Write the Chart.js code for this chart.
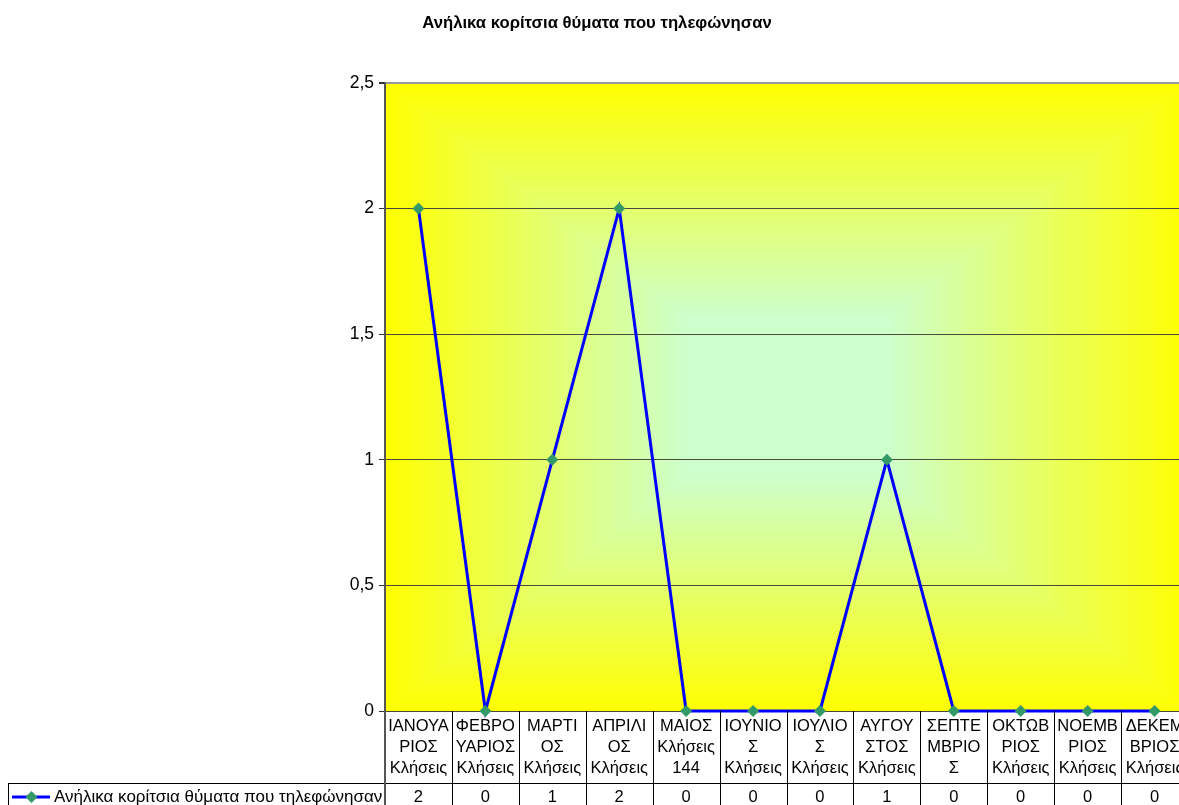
<!DOCTYPE html>
<html>
<head>
<meta charset="utf-8">
<script src="https://cdn.jsdelivr.net/npm/chart.js@4"></script>
<style>
  html, body { margin: 0; padding: 0; background: #fff; overflow: hidden; }
  #wrap { width: 1195px; height: 805px; position: relative; }
</style>
</head>
<body>
<div id="wrap"><canvas id="lineChart"></canvas></div>
<script>
// chart data
const chartTitle = "Ανήλικα κορίτσια θύματα που τηλεφώνησαν";
const seriesName = "Ανήλικα κορίτσια θύματα που τηλεφώνησαν";
const months = [
  ["ΙΑΝΟΥΑ", "ΡΙΟΣ", "Κλήσεις"],
  ["ΦΕΒΡΟ", "ΥΑΡΙΟΣ", "Κλήσεις"],
  ["ΜΑΡΤΙ", "ΟΣ", "Κλήσεις"],
  ["ΑΠΡΙΛΙ", "ΟΣ", "Κλήσεις"],
  ["ΜΑΙΟΣ", "Κλήσεις", "144"],
  ["ΙΟΥΝΙΟ", "Σ", "Κλήσεις"],
  ["ΙΟΥΛΙΟ", "Σ", "Κλήσεις"],
  ["ΑΥΓΟΥ", "ΣΤΟΣ", "Κλήσεις"],
  ["ΣΕΠΤΕ", "ΜΒΡΙΟ", "Σ"],
  ["ΟΚΤΩΒ", "ΡΙΟΣ", "Κλήσεις"],
  ["ΝΟΕΜΒ", "ΡΙΟΣ", "Κλήσεις"],
  ["ΔΕΚΕΜ", "ΒΡΙΟΣ", "Κλήσεις"]
];
const calls = [2, 0, 1, 2, 0, 0, 0, 1, 0, 0, 0, 0];
const yTicks = [0, 0.5, 1, 1.5, 2, 2.5];

const FONT = "'Liberation Sans', Arial, sans-serif";

// yellow -> light green "from centre" fill of the plot area (rectangular gradient,
// flat green in the middle)
const plotFill = {
  id: "plotFill",
  beforeDraw(chart) {
    const { ctx, chartArea: a } = chart;
    const l = Math.round(a.left), t = Math.round(a.top);
    const w = Math.round(a.right) - l, h = Math.round(a.bottom) - t;
    const img = ctx.createImageData(w, h);
    const edge = [255, 255, 0], mid = [204, 255, 204];
    const flat = 0.25;
    for (let y = 0; y < h; y++) {
      const dy = Math.abs(y + 0.5 - h / 2) / (h / 2);
      for (let x = 0; x < w; x++) {
        const dx = Math.abs(x + 0.5 - w / 2) / (w / 2);
        const k = Math.max(0, (Math.max(dx, dy) - flat) / (1 - flat));
        const i = (y * w + x) * 4;
        img.data[i] = mid[0] + (edge[0] - mid[0]) * k;
        img.data[i + 1] = mid[1] + (edge[1] - mid[1]) * k;
        img.data[i + 2] = mid[2] + (edge[2] - mid[2]) * k;
        img.data[i + 3] = 255;
      }
    }
    ctx.putImageData(img, l, t);
  }
};

// title + data table under the plot
const dataTable = {
  id: "dataTable",
  afterDraw(chart) {
    const { ctx, chartArea: a, scales } = chart;
    const x = scales.x;
    const w = (a.right - a.left) / months.length;
    const rowTop = a.bottom, rowMid = a.bottom + 72, rowBot = 805 + 5;
    ctx.save();

    ctx.fillStyle = "#000";
    ctx.font = "bold 16.7px " + FONT;
    ctx.textAlign = "center";
    ctx.textBaseline = "middle";
    ctx.fillText(chartTitle, 597, 23);

    ctx.strokeStyle = "#000";
    ctx.lineWidth = 1;
    ctx.beginPath();
    for (let i = 1; i <= months.length; i++) {
      const xx = Math.round(a.left + i * w) + 0.5;
      ctx.moveTo(xx, rowTop);
      ctx.lineTo(xx, rowBot);
    }
    ctx.moveTo(8, Math.round(rowMid) + 0.5);
    ctx.lineTo(a.right, Math.round(rowMid) + 0.5);
    ctx.moveTo(8.5, rowMid);
    ctx.lineTo(8.5, rowBot);
    ctx.stroke();

    ctx.strokeStyle = "#555";
    ctx.lineWidth = 2;
    ctx.beginPath();
    ctx.moveTo(a.left, rowTop);
    ctx.lineTo(a.left, rowBot);
    ctx.stroke();

    ctx.font = "16.5px " + FONT;
    months.forEach((lines, i) => {
      const px = x.getPixelForValue(i);
      lines.forEach((s, j) => ctx.fillText(s, px, rowTop + 15 + j * 21.3));
      ctx.fillText(String(calls[i]), px, rowMid + 14);
    });

    // legend key in the table
    const ly = rowMid + 14;
    ctx.strokeStyle = "#0000ff";
    ctx.lineWidth = 3;
    ctx.beginPath();
    ctx.moveTo(12, ly);
    ctx.lineTo(50, ly);
    ctx.stroke();
    ctx.fillStyle = "#339966";
    ctx.beginPath();
    ctx.moveTo(31.5, ly - 6);
    ctx.lineTo(37.5, ly);
    ctx.lineTo(31.5, ly + 6);
    ctx.lineTo(25.5, ly);
    ctx.closePath();
    ctx.fill();
    ctx.fillStyle = "#000";
    ctx.textAlign = "left";
    ctx.font = "17px " + FONT;
    ctx.fillText(seriesName, 54, ly);
    ctx.restore();
  }
};

const myChart = new Chart(document.getElementById("lineChart"), {
  type: "line",
  data: {
    labels: months,
    datasets: [{
      label: seriesName,
      data: calls,
      borderColor: "#0000ff",
      borderWidth: 3,
      pointStyle: "rectRot",
      pointRadius: 6,
      pointHoverRadius: 6,
      pointBackgroundColor: "#339966",
      pointBorderColor: "#339966",
      pointBorderWidth: 0,
      tension: 0,
      clip: false
    }]
  },
  options: {
    responsive: true,
    maintainAspectRatio: false,
    animation: false,
    events: [],
    layout: { padding: { left: 0, top: 83, right: 7, bottom: 94 } },
    scales: {
      x: {
        display: false,
        offset: true
      },
      y: {
        min: 0,
        max: 2.5,
        afterFit(scale) { scale.width = 385; },
        afterBuildTicks(scale) { scale.ticks = yTicks.map(v => ({ value: v })); },
        ticks: {
          font: { family: FONT, size: 17.5 },
          color: "#000",
          padding: 5,
          callback: v => String(v).replace(".", ",")
        },
        grid: {
          color: ctx => (ctx.tick && ctx.tick.value === 2.5 ? "#999" : "#4a4a3a"),
          lineWidth: ctx => (ctx.tick && ctx.tick.value === 2.5 ? 2 : 1),
          tickLength: 6,
          tickColor: "#333"
        },
        border: { color: "#555", width: 2 }
      }
    },
    plugins: {
      legend: { display: false },
      title: { display: false },
      tooltip: { enabled: false }
    }
  },
  plugins: [plotFill, dataTable]
});
</script>
</body>
</html>
